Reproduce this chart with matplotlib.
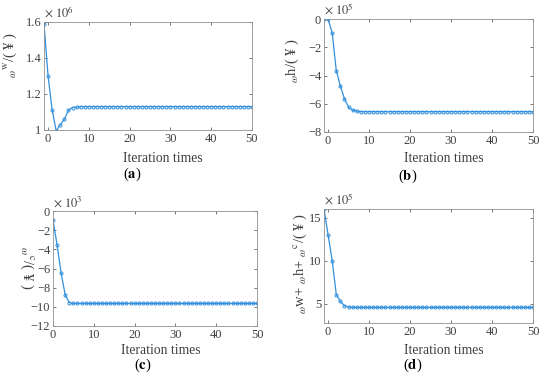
import numpy as np
import matplotlib.pyplot as plt

plt.rcParams['font.family'] = ['Liberation Serif', 'DejaVu Serif']
plt.rcParams['mathtext.fontset'] = 'stix'

# data
it_a = np.arange(-1, 51)
cost_w = [1.59, 1.30, 1.11, 0.995, 1.03, 1.06, 1.11, 1.125, 1.127, 1.13] + [1.13] * 42

it_b = np.arange(-1, 51)
cost_h = [0.0, 0.0, -0.99, -3.65, -4.75, -5.65, -6.25, -6.46, -6.52, -6.56] + [-6.56] * 42

it_c = np.arange(0, 51)
cost_c = [-0.9, -3.55, -6.5, -8.77, -9.55, -9.65] + [-9.65] * 45

it_d = np.arange(-1, 51)
cost_sum = [16.0, 13.0, 10.0, 6.1, 5.3, 4.8, 4.65, 4.62] + [4.6] * 44

blue = '#3290dc'
grey = '#404040'

fig = plt.figure(figsize=(5.5, 3.86), dpi=100)
W, H = 550.0, 386.0


def make_ax(l, r, t, b):
    return fig.add_axes([l / W, 1 - b / H, (r - l) / W, (b - t) / H])


def style(ax, x, y, xlim, ylim, yticks, expo):
    ax.plot(x, y, '-o', color=blue, lw=0.9, ms=2.2, mfc='none', mew=0.7)
    ax.set_xlim(*xlim)
    ax.set_ylim(*ylim)
    ax.set_xticks([0, 10, 20, 30, 40, 50])
    ax.set_yticks(yticks)
    ax.tick_params(direction='in', length=2.5, width=0.5, labelsize=9,
                   colors=grey, top=True, right=True, pad=2)
    for s in ax.spines.values():
        s.set_color('#909090')
        s.set_linewidth(0.6)
    ax.text(0.0, 1.01, r'$\times\ 10^{%d}$' % expo, transform=ax.transAxes,
            fontsize=9, color=grey, ha='left', va='bottom')


ax_a = make_ax(44, 252, 22, 130)
style(ax_a, it_a, cost_w, (-1, 50), (1, 1.6), [1, 1.2, 1.4, 1.6], 6)
ax_a.set_yticklabels(['1', '1.2', '1.4', '1.6'])

ax_b = make_ax(324, 533, 19, 132)
style(ax_b, it_b, cost_h, (-1, 50), (-8, 0), [-8, -6, -4, -2, 0], 5)
ax_b.set_yticklabels(['\u22128', '\u22126', '\u22124', '\u22122', '0'])

ax_c = make_ax(53, 257, 211, 326)
style(ax_c, it_c, cost_c, (0, 50), (-12, 0), [-12, -10, -8, -6, -4, -2, 0], 3)
ax_c.set_yticklabels(['\u221212', '\u221210', '\u22128', '\u22126', '\u22124', '\u22122', '0'])

ax_d = make_ax(324, 533, 209, 323)
style(ax_d, it_d, cost_sum, (-1, 50), (2.8, 16), [5, 10, 15], 5)

# axis titles
for xc, yc in [(163, 158), (444, 158), (161, 351), (444, 351)]:
    fig.text(xc / W, 1 - yc / H, 'Iteration times', fontsize=9.8, color=grey,
             ha='center', va='center')

fig.text(10 / W, 1 - 55 / H, r'$_{\omega}$$^{\rm w}$/( ¥ )', rotation=90,
         fontsize=10.5, color=grey, ha='center', va='center')
fig.text(292 / W, 1 - 60 / H, r'$_{\omega}$h/( ¥ )', rotation=90,
         fontsize=10.5, color=grey, ha='center', va='center')
fig.text(27 / W, 1 - 268 / H, r'$_{\omega}$$^{\rm c}$/( ¥ )', rotation=270,
         fontsize=10.5, color=grey, ha='center', va='center')
fig.text(300 / W, 1 - 264 / H, r'$_{\omega}$w+ $_{\omega}$h+ $_{\omega}$$^{\rm c}$/( ¥ )',
         rotation=90, fontsize=10.5, color=grey, ha='center', va='center')

# panel letters
for xc, yc, letter in [(132, 174, 'a'), (408, 176, 'b'), (143, 365, 'c'), (413, 365, 'd')]:
    fig.text(xc / W, 1 - yc / H, '(' + r'$\mathbf{%s}$' % letter + ')',
             fontsize=10.5, color='black', ha='center', va='center')

fig.savefig('out.png', dpi=100)
